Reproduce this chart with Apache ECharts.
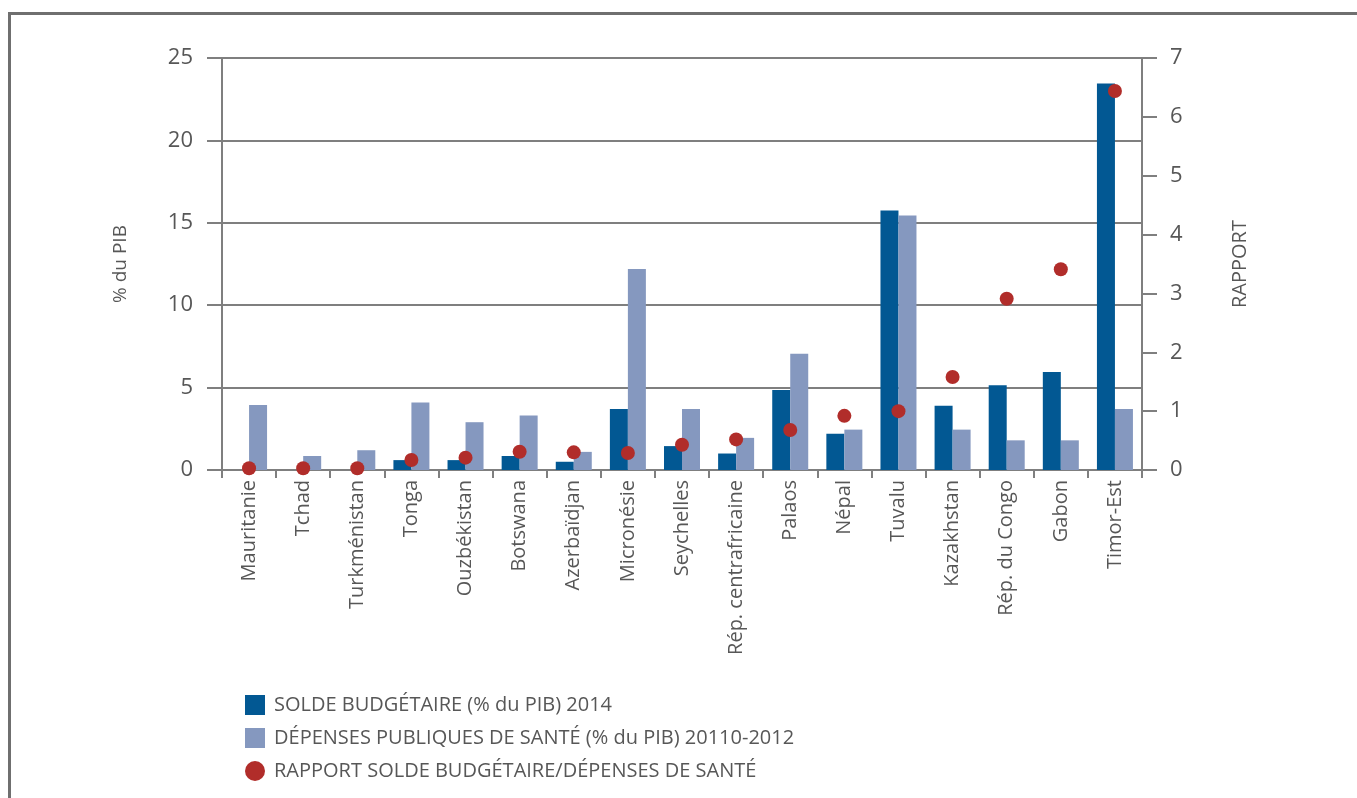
<!DOCTYPE html>
<html>
<head>
<meta charset="utf-8">
<script src="https://cdn.jsdelivr.net/npm/echarts@6/dist/echarts.min.js"></script>
<style>
  html, body { margin: 0; padding: 0; background: #fff; }
  #chart { width: 1357px; height: 798px; }
</style>
</head>
<body>
<div id="chart"></div>
<script>
// Pays classés par rapport croissant
const categories = ['Mauritanie', 'Tchad', 'Turkménistan', 'Tonga', 'Ouzbékistan', 'Botswana',
  'Azerbaïdjan', 'Micronésie', 'Seychelles', 'Rép. centrafricaine', 'Palaos', 'Népal',
  'Tuvalu', 'Kazakhstan', 'Rép. du Congo', 'Gabon', 'Timor-Est'];

// Solde budgétaire (% du PIB) 2014
const soldeBudgetaire = [0, 0, 0, 0.6, 0.6, 0.85, 0.5, 3.7, 1.45, 1.0, 4.85, 2.2, 15.75, 3.9, 5.15, 5.95, 23.45];

// Dépenses publiques de santé (% du PIB)
const depensesSante = [3.95, 0.85, 1.2, 4.1, 2.9, 3.3, 1.1, 12.2, 3.7, 1.95, 7.05, 2.45, 15.45, 2.45, 1.8, 1.8, 3.7];

// Rapport solde budgétaire / dépenses de santé
const rapport = [0.03, 0.03, 0.03, 0.17, 0.21, 0.31, 0.3, 0.29, 0.43, 0.52, 0.68, 0.92, 1.0, 1.58, 2.91, 3.41, 6.44];

const leftTicks = { min: 0, max: 25, interval: 5 };
const rightTicks = { min: 0, max: 7, interval: 1 };

const FONT = 'Open Sans';
const TEXT = '#575757';
const LINE = '#7f7f7f';

const chart = echarts.init(document.getElementById('chart'));

chart.setOption({
  animation: false,
  textStyle: { fontFamily: FONT },
  graphic: [{
    type: 'rect',
    shape: { x: 9.5, y: 13.5, width: 1400, height: 900 },
    style: { fill: 'none', stroke: '#6f6f6f', lineWidth: 3 },
    silent: true
  }],
  grid: { left: 222, right: 215, top: 58, bottom: 328, containLabel: false },
  legend: {
    orient: 'vertical',
    left: 240,
    top: 690,
    itemWidth: 20,
    itemHeight: 20,
    itemGap: 13,
    textStyle: { fontFamily: FONT, fontSize: 20, color: TEXT, padding: [0, 0, 0, 4] },
    data: [
      { name: 'SOLDE BUDGÉTAIRE (% du PIB) 2014', icon: 'rect' },
      { name: 'DÉPENSES PUBLIQUES DE SANTÉ (% du PIB) 20110-2012', icon: 'rect' },
      { name: 'RAPPORT SOLDE BUDGÉTAIRE/DÉPENSES DE SANTÉ', icon: 'circle' }
    ]
  },
  xAxis: {
    type: 'category',
    data: categories,
    axisLine: { lineStyle: { color: LINE, width: 2 } },
    axisTick: { show: true, length: 8, lineStyle: { color: LINE, width: 2 } },
    axisLabel: { rotate: 90, fontSize: 20, color: TEXT, margin: 10, fontFamily: FONT }
  },
  yAxis: [{
    type: 'value',
    min: leftTicks.min, max: leftTicks.max, interval: leftTicks.interval,
    name: '% du PIB',
    nameLocation: 'middle',
    nameGap: 92,
    nameTextStyle: { fontSize: 19, color: TEXT, fontFamily: FONT },
    axisLine: { show: true, lineStyle: { color: LINE, width: 2 } },
    axisTick: { show: true, length: 15, lineStyle: { color: LINE, width: 2 } },
    axisLabel: { fontSize: 22, color: TEXT, margin: 29, fontFamily: FONT },
    splitLine: { show: true, lineStyle: { color: LINE, width: 2 } }
  }, {
    type: 'value',
    position: 'right',
    min: rightTicks.min, max: rightTicks.max, interval: rightTicks.interval,
    name: 'RAPPORT',
    nameLocation: 'middle',
    nameGap: 88,
    nameTextStyle: { fontSize: 20, color: TEXT, fontFamily: FONT },
    axisLine: { show: true, lineStyle: { color: LINE, width: 2 } },
    axisTick: { show: true, length: 15, lineStyle: { color: LINE, width: 2 } },
    axisLabel: { fontSize: 22, color: TEXT, margin: 28, fontFamily: FONT },
    splitLine: { show: false }
  }],
  series: [{
    name: 'SOLDE BUDGÉTAIRE (% du PIB) 2014',
    type: 'bar',
    yAxisIndex: 0,
    data: soldeBudgetaire,
    barWidth: 18,
    barGap: '0%',
    itemStyle: { color: '#025893' },
    z: 2
  }, {
    name: 'DÉPENSES PUBLIQUES DE SANTÉ (% du PIB) 20110-2012',
    type: 'bar',
    yAxisIndex: 0,
    data: depensesSante,
    barWidth: 18,
    barGap: '0%',
    itemStyle: { color: '#8598bf' },
    z: 2
  }, {
    name: 'RAPPORT SOLDE BUDGÉTAIRE/DÉPENSES DE SANTÉ',
    type: 'scatter',
    yAxisIndex: 1,
    data: rapport,
    symbol: 'circle',
    symbolSize: 14,
    itemStyle: { color: '#b12d2a', opacity: 1 },
    z: 5
  }]
});
</script>
</body>
</html>
